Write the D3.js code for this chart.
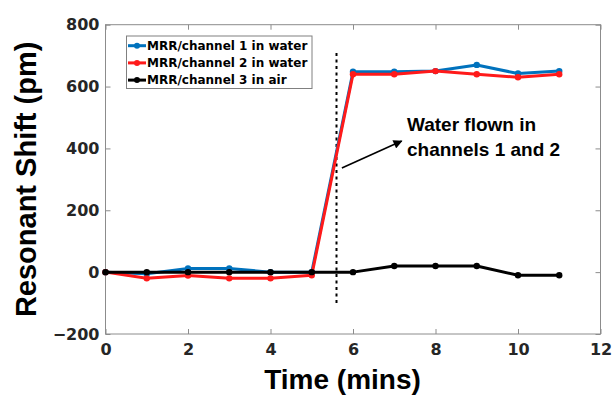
<!DOCTYPE html>
<html><head><meta charset="utf-8">
<script src="https://cdn.jsdelivr.net/npm/d3@7"></script>
<style>body{margin:0;background:#fff}svg{display:block}</style>
</head><body>
<svg id="c" width="612" height="397"></svg>
<script>
const times = [0,1,2,3,4,5,6,7,8,9,10,11];
const channel1 = [0,-5,12,12,0,0,648,648,650,670,642,650];
const channel2 = [0,-20,-11,-20,-20,-10,640,640,650,640,630,640];
const channel3 = [0,0,0,0,0,0,0,20,20,20,-10,-10];
const seriesNames = ["MRR/channel 1 in water","MRR/channel 2 in water","MRR/channel 3 in air"];
const seriesColors = ["#0072BD","#FF1A1A","#000000"];
const xTicks = [0,2,4,6,8,10,12];
const yTicks = [-200,0,200,400,600,800];
const markerLine = {x:5.6, y0:-100, y1:710};
const arrow = {x0:5.73, y0:337, x1:7.18, y1:424};
const annotation = ["Water flown in","channels 1 and 2"];

const svg = d3.select("#c");
const L=105.5, R=600.5, T=24.7, B=334;
const x = d3.scaleLinear().domain([0,12]).range([L,R]);
const y = d3.scaleLinear().domain([-200,800]).range([B,T]);
const axisColor = "#8c8c8c";
const tickFont = "bold 16px 'DejaVu Sans', sans-serif";

// box
svg.append("rect").attr("x",L).attr("y",T).attr("width",R-L).attr("height",B-T)
  .attr("fill","none").attr("stroke",axisColor).attr("stroke-width",1);

// axes with inward ticks
const gx = svg.append("g").attr("transform",`translate(0,${B})`)
  .call(d3.axisBottom(x).tickValues(xTicks).tickSizeInner(-5).tickSizeOuter(0).tickPadding(10));
const gxt = svg.append("g").attr("transform",`translate(0,${T})`)
  .call(d3.axisTop(x).tickValues(xTicks).tickSizeInner(-5).tickSizeOuter(0).tickFormat(""));
const gy = svg.append("g").attr("transform",`translate(${L},0)`)
  .call(d3.axisLeft(y).tickValues(yTicks).tickSizeInner(-5).tickSizeOuter(0).tickPadding(6).tickFormat(d=>d<0?"\u2212"+(-d):d));
const gyr = svg.append("g").attr("transform",`translate(${R},0)`)
  .call(d3.axisRight(y).tickValues(yTicks).tickSizeInner(-5).tickSizeOuter(0).tickFormat(""));
[gx,gxt,gy,gyr].forEach(g=>{
  g.select(".domain").remove();
  g.selectAll("line").attr("stroke",axisColor);
  g.selectAll("text").attr("fill","#262626").style("font",tickFont);
});
gx.selectAll("text").attr("dy","0.71em");

// dashed vertical line
svg.append("line").attr("x1",x(markerLine.x)).attr("x2",x(markerLine.x))
  .attr("y1",y(markerLine.y0)).attr("y2",y(markerLine.y1))
  .attr("stroke","#000").attr("stroke-width",2).attr("stroke-dasharray","3,3.5");

// series
const allSeries = [channel1, channel2, channel3];
const line = d3.line().x((d,i)=>x(times[i])).y(d=>y(d));
allSeries.forEach((s,k)=>{
  const g = svg.append("g");
  g.append("path").datum(s).attr("d",line).attr("fill","none")
    .attr("stroke",seriesColors[k]).attr("stroke-width",3).attr("stroke-linejoin","round");
  g.selectAll("circle").data(s).join("circle")
    .attr("cx",(d,i)=>x(times[i])).attr("cy",d=>y(d)).attr("r",3.2).attr("fill",seriesColors[k]);
});

// arrow
svg.append("defs").append("marker").attr("id","ah").attr("viewBox","0 0 10 10")
  .attr("refX",9).attr("refY",5).attr("markerWidth",10).attr("markerHeight",9)
  .attr("markerUnits","userSpaceOnUse").attr("orient","auto")
  .append("path").attr("d","M0,0L10,5L0,10z").attr("fill","#000");
svg.append("line").attr("x1",x(arrow.x0)).attr("y1",y(arrow.y0))
  .attr("x2",x(arrow.x1)).attr("y2",y(arrow.y1))
  .attr("stroke","#000").attr("stroke-width",1.6).attr("marker-end","url(#ah)");
svg.selectAll("text.ann").data(annotation).join("text").attr("class","ann")
  .attr("x",407).attr("y",(d,i)=>131+i*24.5).text(d=>d)
  .style("font","bold 19px 'Liberation Sans', Arial, sans-serif").attr("fill","#000");

// legend
const lg = svg.append("g");
lg.append("rect").attr("x",126.5).attr("y",36).attr("width",185.5).attr("height",52.5)
  .attr("fill","#fff").attr("stroke","#808080").attr("stroke-width",1);
seriesNames.forEach((n,k)=>{
  const yy = 45.7 + k*17.2;
  lg.append("line").attr("x1",128).attr("x2",146).attr("y1",yy).attr("y2",yy)
    .attr("stroke",seriesColors[k]).attr("stroke-width",3);
  lg.append("circle").attr("cx",137).attr("cy",yy).attr("r",3).attr("fill",seriesColors[k]);
  lg.append("text").attr("x",147).attr("y",yy).attr("dy","0.36em").text(n)
    .style("font","bold 12px 'DejaVu Sans', sans-serif").attr("fill","#000");
});

// axis labels
svg.append("text").attr("transform",`translate(36,${(T+B)/2}) rotate(-90)`)
  .attr("text-anchor","middle").text("Resonant Shift (pm)")
  .style("font","bold 29px 'Liberation Sans', Arial, sans-serif").attr("fill","#000");
svg.append("text").attr("x",342.5).attr("y",389).attr("text-anchor","middle")
  .text("Time (mins)").style("font","bold 28px 'Liberation Sans', Arial, sans-serif").attr("fill","#000");
</script>
</body></html>
